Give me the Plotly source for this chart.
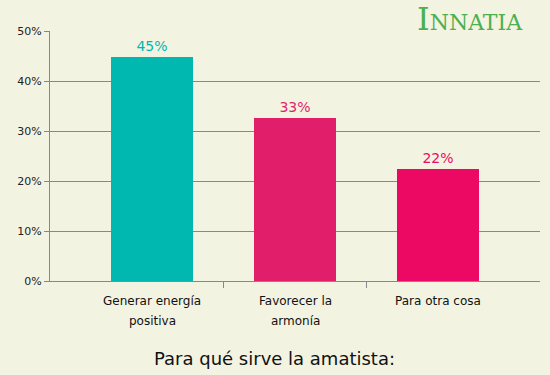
import plotly.graph_objects as go

categories = ["Generar energía<br>positiva", "Favorecer la<br>armonía", "Para otra cosa"]
values = [44.9, 32.7, 22.4]
labels = ["45%", "33%", "22%"]
colors = ["#00B8B0", "#E01E6A", "#EC0964"]
yticks = [0, 10, 20, 30, 40, 50]
yticklabels = ["0%", "10%", "20%", "30%", "40%", "50%"]

bg = "#F3F3E2"
fig = go.Figure()
fig.add_trace(go.Bar(
    x=list(range(len(categories))), y=values,
    marker=dict(color=colors, line=dict(width=0)),
    width=0.573,
    text=labels, textposition="outside",
    textfont=dict(color=colors, size=14, family="DejaVu Sans"),
    cliponaxis=False, hoverinfo="skip",
))
# invisible trace for boundary ticks
fig.add_trace(go.Scatter(x=[0.5, 1.5], y=[0, 0], xaxis="x2", mode="markers",
                         marker=dict(opacity=0), hoverinfo="skip", showlegend=False))

annotations = []
for i, cat in enumerate(categories):
    for j, line in enumerate(cat.split("<br>")):
        annotations.append(dict(
            text=line, x=i, xref="x", y=0, yref="y", yanchor="middle",
            xanchor="center", yshift=-20 - 20 * j, showarrow=False,
            font=dict(size=12, color="#111", family="DejaVu Sans")))

annotations += [
    dict(text="Para qué sirve la amatista:", xref="paper", yref="paper",
         x=0.459, y=-0.31, xanchor="center", yanchor="middle", showarrow=False,
         font=dict(size=18, color="#111", family="DejaVu Sans")),
    dict(text="<span style='font-size:32px'>I</span>NNATIA", xref="paper", yref="paper",
         x=0.97, y=1.048, xanchor="right", yanchor="middle", showarrow=False,
         font=dict(size=22, color="#4CB050", family="DejaVu Serif")),
]

rng = [-0.717, 2.717]
fig.update_layout(
    width=550, height=375,
    paper_bgcolor=bg, plot_bgcolor=bg,
    margin=dict(l=50, r=10, t=31, b=94),
    showlegend=False,
    font=dict(family="DejaVu Sans", color="#222"),
    xaxis=dict(range=rng, showticklabels=False, ticks="", showgrid=False, zeroline=False,
               showline=True, linecolor="#888", linewidth=1),
    xaxis2=dict(range=rng, overlaying="x", anchor="y", side="bottom",
                tickmode="array", tickvals=[0.5, 1.5], ticks="outside", ticklen=6,
                tickcolor="#888", showticklabels=False, showgrid=False,
                zeroline=False, showline=False),
    yaxis=dict(range=[0, 50], tickmode="array", tickvals=yticks, ticktext=yticklabels,
               ticks="outside", ticklen=5, tickcolor="#888", showgrid=True,
               gridcolor="#888", gridwidth=1, zeroline=False, showline=True,
               linecolor="#888", linewidth=1, tickfont=dict(size=11, color="#222")),
    bargap=0,
    annotations=annotations,
)
fig.write_html("out.html", config={"displayModeBar": False},
               post_script="document.body.style.margin='0';")
